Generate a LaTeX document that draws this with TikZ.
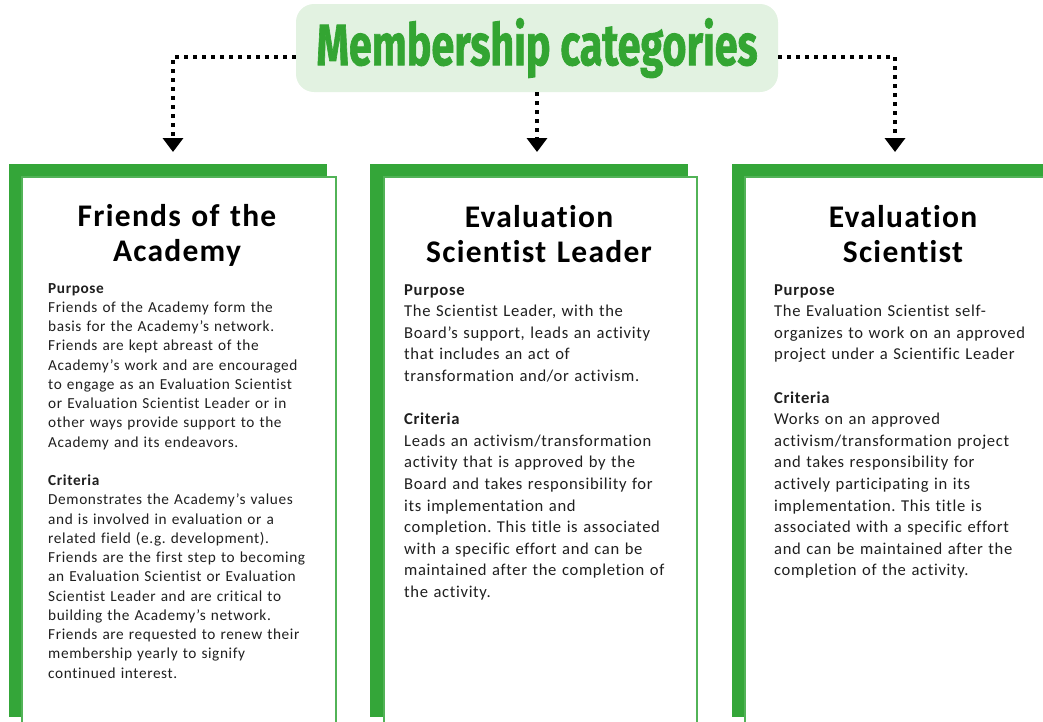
\documentclass[tikz,border=0pt]{standalone}
\usepackage{fontspec}
\setmainfont{Carlito}[LetterSpace=4,Ligatures=NoCommon]
\newfontfamily\headfont{Fira Sans}[BoldFeatures={FakeBold=1.5}]
\usetikzlibrary{arrows.meta}
\definecolor{cardgreen}{RGB}{52,166,57}
\definecolor{titlegreen}{RGB}{51,165,50}
\definecolor{titlefill}{RGB}{226,242,225}
\begin{document}
\frenchspacing
\begin{tikzpicture}[x=1pt,y=-1pt,
  greenband/.style={fill=cardgreen,draw=none},
  cardbox/.style={draw=cardgreen!85,line width=1.6pt,fill=white,rectangle,inner sep=0pt,anchor=north west,minimum height=560pt},
  cardtitle/.style={font=\bfseries\fontsize{31.5}{35}\selectfont,align=center,text width=310pt,anchor=base,inner sep=0pt,text=black},
  bodysmall/.style={anchor=base west,inner sep=0pt,align=left,text width=295pt,text=black!88,font=\fontsize{15.3}{19.25}\selectfont},
  bodylarge/.style={anchor=base west,inner sep=0pt,align=left,text width=300pt,text=black!88,font=\fontsize{16.6}{21.6}\selectfont},
  conn/.style={line width=3.6pt,dash pattern=on 4pt off 5pt,-{Triangle[width=20pt,length=14pt]}}
]
\useasboundingbox (0,0) rectangle (1043,721);

% title
\node[fill=titlefill,rounded corners=18pt,minimum width=482pt,minimum height=88pt,inner sep=0pt] (title) at (537,48)
  {\scalebox{0.713}[1]{\color{titlegreen}\headfont\bfseries\fontsize{58}{60}\selectfont Membership categories}};

% arrow end points
\coordinate (a1) at (173,152);
\coordinate (a2) at (537,152);
\coordinate (a3) at (895,152);

\draw[conn] ([yshift=-9pt]title.west) -| (a1);
\draw[conn] (title.south) -- (a2);
\draw[conn] ([yshift=-9pt]title.east) -| (a3);

% card 1
\fill[greenband] (9,164) rectangle (327,717);
\node[cardbox,minimum width=314pt] (c1) at (21,176) {};
\node[cardtitle] (c1t) at (177,226) {Friends of the\\Academy};
\node[bodysmall] (c1b) at (48,293) {\textbf{Purpose}\\
Friends of the Academy form the\\
basis for the Academy’s network.\\
Friends are kept abreast of the\\
Academy’s work and are encouraged\\
to engage as an Evaluation Scientist\\
or Evaluation Scientist Leader or in\\
other ways provide support to the\\
Academy and its endeavors.\\[19.25pt]
\textbf{Criteria}\\
Demonstrates the Academy’s values\\
and is involved in evaluation or a\\
related field (e.g. development).\\
Friends are the first step to becoming\\
an Evaluation Scientist or Evaluation\\
Scientist Leader and are critical to\\
building the Academy’s network.\\
Friends are requested to renew their\\
membership yearly to signify\\
continued interest.};

% card 2
\fill[greenband] (370,164) rectangle (688,717);
\node[cardbox,minimum width=313pt] (c2) at (383,176) {};
\node[cardtitle] (c2t) at (539,227) {Evaluation\\Scientist Leader};
\node[bodylarge] (c2b) at (404,295) {\textbf{Purpose}\\
The Scientist Leader, with the\\
Board’s support, leads an activity\\
that includes an act of\\
transformation and/or activism.\\[21.6pt]
\textbf{Criteria}\\
Leads an activism/transformation\\
activity that is approved by the\\
Board and takes responsibility for\\
its implementation and\\
completion. This title is associated\\
with a specific effort and can be\\
maintained after the completion of\\
the activity.};

% card 3
\fill[greenband] (732,164) rectangle (1060,717);
\node[cardbox,minimum width=320pt] (c3) at (744,176) {};
\node[cardtitle] (c3t) at (903,227) {Evaluation\\Scientist};
\node[bodylarge] (c3b) at (774,295) {\textbf{Purpose}\\
The Evaluation Scientist self-\\
organizes to work on an approved\\
project under a Scientific Leader\\[21.6pt]
\textbf{Criteria}\\
Works on an approved\\
activism/transformation project\\
and takes responsibility for\\
actively participating in its\\
implementation. This title is\\
associated with a specific effort\\
and can be maintained after the\\
completion of the activity.};
\end{tikzpicture}
\end{document}
